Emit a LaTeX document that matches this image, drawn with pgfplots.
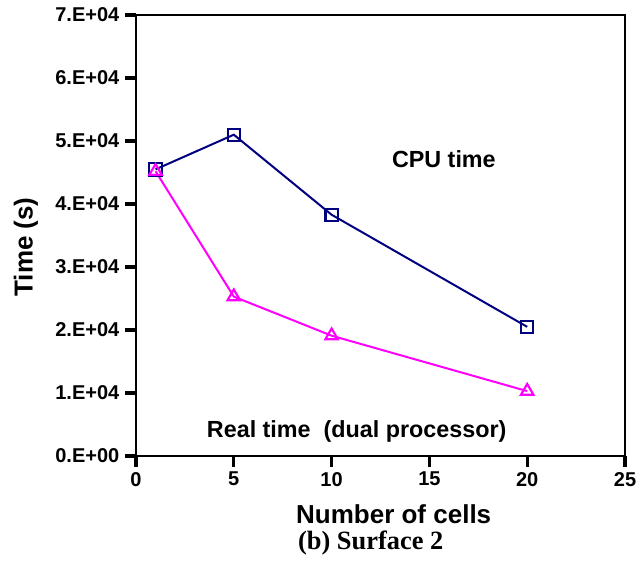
\documentclass[border=0pt]{standalone}
\usepackage{fontspec}
\setmainfont{Liberation Sans}
\newfontfamily\capfont{Liberation Serif}
\usepackage{pgfplots}
\pgfplotsset{compat=1.18}
\definecolor{cpunavy}{RGB}{0,0,128}
\definecolor{realmag}{RGB}{255,0,255}
\begin{document}
\begin{tikzpicture}
\useasboundingbox (-102pt,-79.5pt) rectangle (378.75pt,342pt);
\begin{axis}[
  scale only axis,
  width=366.75pt, height=330.75pt,
  xmin=0, xmax=25, ymin=0, ymax=70000,
  xtick={0,5,10,15,20,25},
  xticklabels={0,5,10,15,20,25},
  ytick={0,10000,20000,30000,40000,50000,60000,70000},
  yticklabels={0.E+00,1.E+04,2.E+04,3.E+04,4.E+04,5.E+04,6.E+04,7.E+04},
  scaled ticks=false,
  tick align=outside,
  tick pos=left,
  major tick length=8pt,
  every tick/.append style={black, line width=2.4pt},
  axis line style={line width=2pt},
  tick label style={font=\fontsize{15}{18}\selectfont\bfseries},
  yticklabel style={xshift=-1pt},
  xticklabel style={yshift=-0.5pt},
  xlabel={\fontsize{19.5}{23}\selectfont\bfseries Number of cells},
  xlabel style={at={(axis description cs:0.527,-0.152)}, anchor=base},
  ylabel={\fontsize{19.5}{23}\selectfont\bfseries Time (s)},
  ylabel style={at={(axis description cs:-0.225,0.474)}, anchor=center, rotate=0},
  clip=false,
]
\addplot[cpunavy, line width=1.5pt, mark=square, mark size=4.6pt,
  mark options={solid, line width=1.6pt}]
  coordinates {(1,45500) (5,51000) (10,38300) (20,20500)};
\addplot[realmag, line width=1.5pt, mark=triangle, mark size=5.4pt,
  mark options={solid, line width=1.6pt}]
  coordinates {(1,45200) (5,25300) (10,19100) (20,10300)};
\node[anchor=base west, inner sep=0pt, font=\fontsize{17.5}{21}\selectfont\bfseries]
  at (axis description cs:0.523,0.655) {CPU time};
\node[anchor=base west, inner sep=0pt, font=\fontsize{17.5}{21}\selectfont\bfseries]
  at (axis description cs:0.1446,0.0424) {Real time\ \ (dual processor)};
\node[anchor=base, inner sep=0pt, font=\fontsize{19.8}{23}\selectfont\capfont\bfseries]
  at (axis description cs:0.480,-0.213) {(b) Surface 2};
\end{axis}
\end{tikzpicture}
\end{document}
